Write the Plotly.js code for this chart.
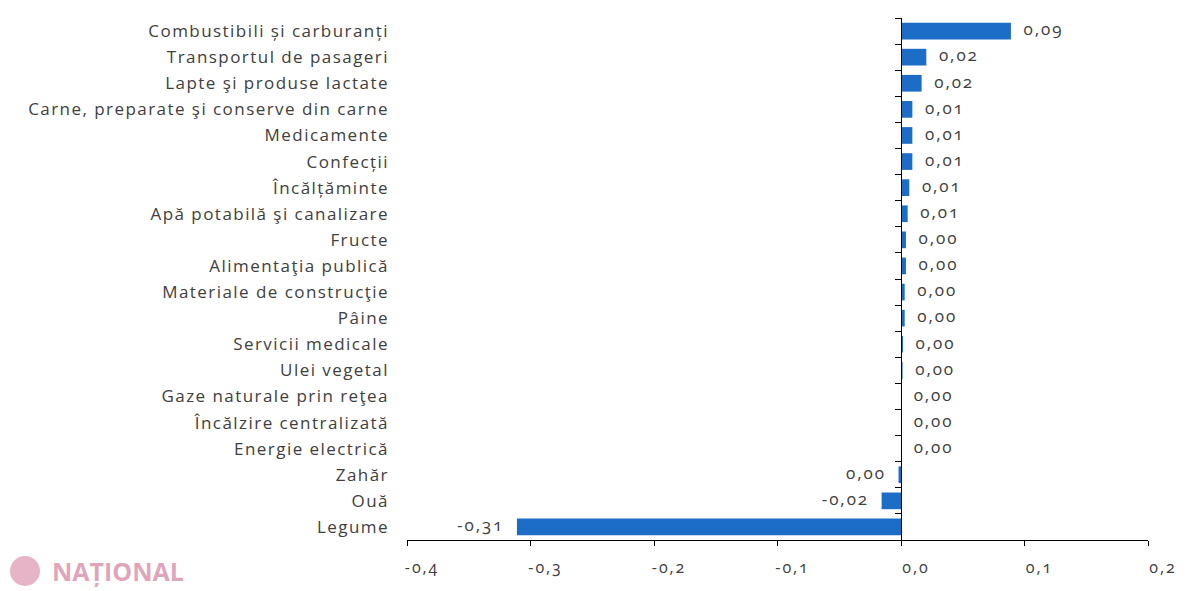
<!DOCTYPE html>
<html>
<head>
<meta charset="utf-8">
<script src="https://cdn.plot.ly/plotly-3.0.1.min.js"></script>
<style>
html,body{margin:0;padding:0;background:#fff;}
#chart{width:1200px;height:591px;}
.ytick text{letter-spacing:1.45px;}
.xtick text, .textpoint text{letter-spacing:1.9px;font-variant-numeric:oldstyle-nums;font-feature-settings:"onum" 1;}
</style>
</head>
<body>
<div id="chart"></div>
<script>
const categories = [
  "Combustibili și carburanți",
  "Transportul de pasageri",
  "Lapte şi produse lactate",
  "Carne, preparate şi conserve din carne",
  "Medicamente",
  "Confecții",
  "Încălțăminte",
  "Apă potabilă şi canalizare",
  "Fructe",
  "Alimentaţia publică",
  "Materiale de construcţie",
  "Pâine",
  "Servicii medicale",
  "Ulei vegetal",
  "Gaze naturale prin reţea",
  "Încălzire centralizată",
  "Energie electrică",
  "Zahăr",
  "Ouă",
  "Legume"
];
const values = [0.089, 0.0205, 0.0167, 0.0092, 0.0092, 0.0092, 0.0067, 0.0054, 0.004, 0.004,
                0.003, 0.003, 0.0016, 0.0013, 0.0, 0.0, 0.0, -0.002, -0.0157, -0.311];
const xTicks = [-0.4, -0.3, -0.2, -0.1, 0.0, 0.1, 0.2];
const xTickLabels = ["-0,4", "-0,3", "-0,2", "-0,1", "0,0", "0,1", "0,2"];

function fmt(v) {
  let s = Math.abs(v).toFixed(2);
  if (v < 0 && parseFloat(s) !== 0) s = "-" + s;
  return s.replace(".", ",");
}
const pad = "\u00A0\u00A0";
const texts = values.map(v => v < 0 ? fmt(v) + pad : pad + fmt(v));
const textPos = values.map(v => v < 0 ? "middle left" : "middle right");

const FONT = "'Open Sans', 'Noto Sans', sans-serif";
const n = categories.length;

const traces = [
  {
    type: "bar",
    orientation: "h",
    x: values,
    y: categories,
    marker: { color: "#1C6DC5" },
    hoverinfo: "x+y"
  },
  {
    type: "scatter",
    mode: "text",
    x: values,
    y: categories,
    text: texts,
    textposition: textPos,
    cliponaxis: false,
    textfont: { family: FONT, size: 17, color: "#404040" },
    hoverinfo: "skip",
    showlegend: false
  },
  {
    type: "scatter",
    mode: "markers",
    x: values.map(() => 0),
    y: categories,
    yaxis: "y2",
    marker: { opacity: 0, size: 1 },
    hoverinfo: "skip",
    showlegend: false
  }
];

const layout = {
  width: 1200,
  height: 591,
  margin: { l: 407, r: 52, t: 18, b: 51 },
  paper_bgcolor: "#fff",
  plot_bgcolor: "#fff",
  showlegend: false,
  bargap: 0.36,
  font: { family: FONT, color: "#404040" },
  xaxis: {
    range: [-0.4, 0.2],
    tickvals: xTicks,
    ticktext: xTickLabels,
    showgrid: false,
    zeroline: false,
    showline: true,
    linecolor: "#000",
    linewidth: 1,
    ticks: "outside",
    ticklen: 5,
    tickcolor: "#000",
    tickfont: { family: FONT, size: 16, color: "#404040" },
    ticklabelshift: 15,
    ticklabelstandoff: 8,
    fixedrange: true
  },
  yaxis: {
    type: "category",
    categoryorder: "array",
    categoryarray: categories,
    range: [n - 0.5, -0.5],
    showgrid: false,
    zeroline: false,
    showline: false,
    ticks: "",
    ticklabelstandoff: 17,
    tickfont: { family: FONT, size: 17, color: "#404040" },
    fixedrange: true
  },
  yaxis2: {
    type: "category",
    categoryorder: "array",
    categoryarray: categories,
    range: [n - 0.5, -0.5],
    overlaying: "y",
    anchor: "free",
    position: 0.4 / 0.6,
    side: "left",
    showgrid: false,
    zeroline: false,
    showline: true,
    linecolor: "#000",
    linewidth: 1,
    ticks: "outside",
    tickson: "boundaries",
    ticklen: 6,
    tickcolor: "#000",
    showticklabels: false,
    fixedrange: true
  },
  shapes: [
    {
      type: "circle", xref: "paper", yref: "paper",
      xsizemode: "pixel", ysizemode: "pixel",
      xanchor: (25 - 407) / 741, yanchor: (540 - 571) / 522,
      x0: -15, x1: 15, y0: -15, y1: 15,
      fillcolor: "rgba(214,130,160,0.6)", line: { width: 0 }
    }
  ],
  annotations: [
    {
      xref: "paper", yref: "paper",
      x: (50 - 407) / 741, y: (540 - 571) / 522,
      xanchor: "left", yanchor: "middle",
      text: "<b>NAȚIONAL</b>",
      showarrow: false,
      font: { family: "'Open Sans', sans-serif", size: 25, color: "rgba(210,125,155,0.7)" }
    }
  ]
};

Plotly.newPlot("chart", traces, layout, { displayModeBar: false, staticPlot: true });
</script>
</body>
</html>
